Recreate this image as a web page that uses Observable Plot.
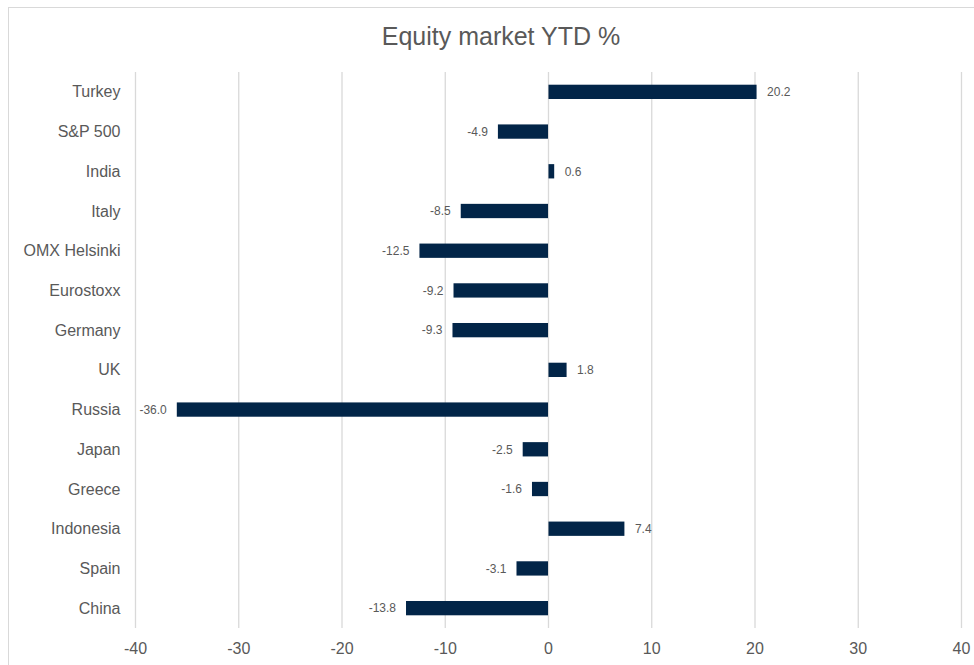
<!DOCTYPE html>
<html>
<head>
<meta charset="utf-8">
<script src="https://cdn.jsdelivr.net/npm/d3@7"></script>
<script src="https://cdn.jsdelivr.net/npm/@observablehq/plot@0.6"></script>
<style>
  html, body { margin: 0; padding: 0; background: #fff; }
  body { width: 974px; height: 665px; overflow: hidden; position: relative; font-family: "Liberation Sans", Arial, sans-serif; }
  #frame { position: absolute; left: 8px; top: 7px; width: 980px; height: 680px; border: 1px solid #d9d9d9; box-sizing: border-box; }
  #title { position: absolute; left: 0; top: 0; width: 1002px; height: 72px; text-align: center; font-size: 25px; color: #595959; line-height: 72px; }
  #chart { position: absolute; left: 0; top: 72px; }
</style>
</head>
<body>
<div id="frame"></div>
<div id="title">Equity market YTD %</div>
<div id="chart"></div>
<script>
const markets = ["Turkey", "S&P 500", "India", "Italy", "OMX Helsinki", "Eurostoxx", "Germany", "UK", "Russia", "Japan", "Greece", "Indonesia", "Spain", "China"];
const ytd = [20.2, -4.9, 0.6, -8.5, -12.5, -9.2, -9.3, 1.8, -36.0, -2.5, -1.6, 7.4, -3.1, -13.8];
const xTicks = [-40, -30, -20, -10, 0, 10, 20, 30, 40];

const data = markets.map((m, i) => ({market: m, value: ytd[i]}));
const neg = data.filter(d => d.value < 0);
const pos = data.filter(d => d.value >= 0);

const chart = Plot.plot({
  width: 974,
  height: 593,
  marginLeft: 135,
  marginRight: 13,
  marginTop: 0,
  marginBottom: 37,
  style: {fontFamily: '"Liberation Sans", Arial, sans-serif', background: "transparent", overflow: "visible"},
  x: {domain: [-40, 40], ticks: xTicks, label: null},
  y: {domain: markets, paddingInner: 0.64, paddingOuter: 0.32, round: false, label: null},
  marks: [
    Plot.gridX(xTicks, {stroke: "#d9d9d9", strokeOpacity: 1, strokeWidth: 1.3}),
    Plot.axisX({ticks: xTicks, tickSize: 0, tickPadding: 14, fontSize: 16, fill: "#595959", label: null, tickFormat: d => String(d)}),
    Plot.axisY({tickSize: 0, tickPadding: 15, fontSize: 16, fill: "#595959", label: null}),
    Plot.barX(data, {x: "value", y: "market", fill: "#022548", insetLeft: 0.5}),
    Plot.text(neg, {x: "value", y: "market", text: d => d.value.toFixed(1), textAnchor: "end", dx: -10, fontSize: 12, fill: "#595959"}),
    Plot.text(pos, {x: "value", y: "market", text: d => d.value.toFixed(1), textAnchor: "start", dx: 10, fontSize: 12, fill: "#595959"})
  ]
});

document.getElementById("chart").appendChild(chart);
</script>
</body>
</html>
